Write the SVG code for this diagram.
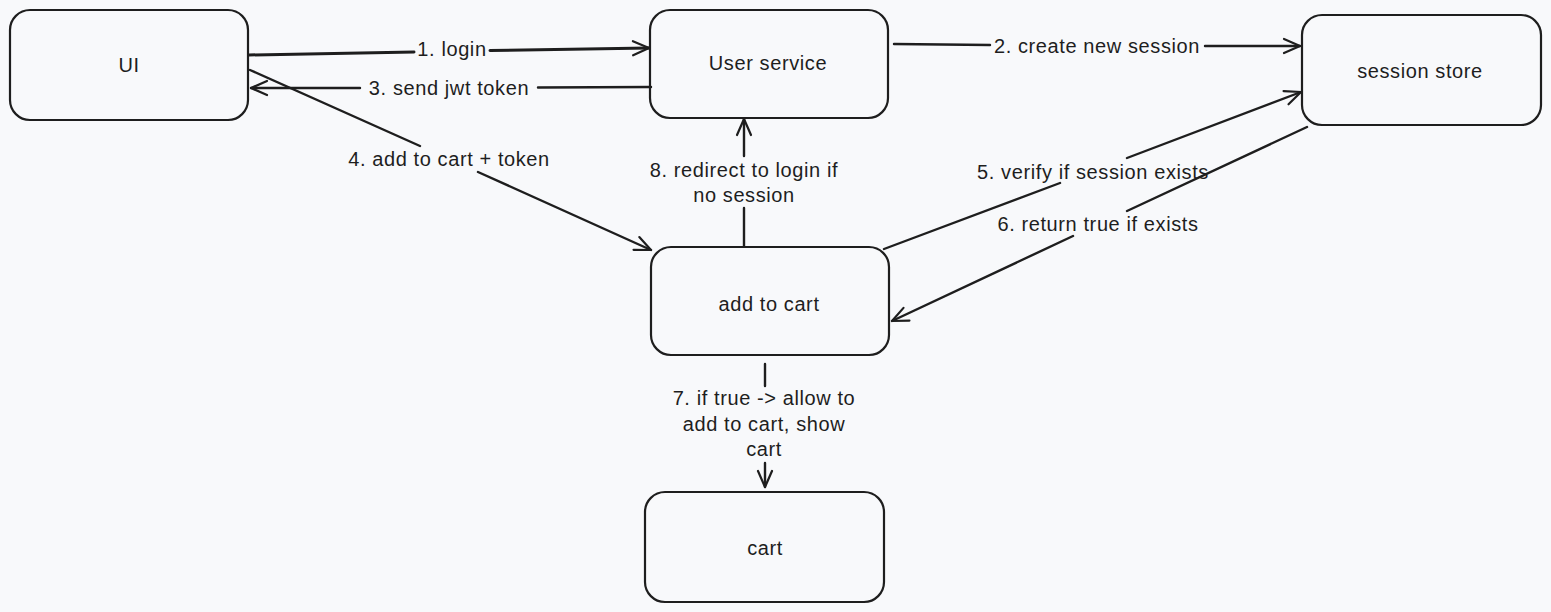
<svg xmlns="http://www.w3.org/2000/svg" width="1551" height="612" viewBox="0 0 1551 612">
<defs>
<style>
.bg{fill:#f8f9fb}
.node rect{fill:none;stroke:#1e1e1e;stroke-width:2.2}
.node text,.lbl{font-family:"Liberation Sans",Arial,sans-serif;font-size:20px;letter-spacing:0.6px;fill:#1e1e1e;text-anchor:middle;dominant-baseline:central}
.edge{fill:none;stroke:#1e1e1e;stroke-width:2.4;stroke-linecap:round;marker-end:url(#ah)}
</style>
<marker id="ah" viewBox="0 0 20 20" refX="18" refY="10" markerWidth="20" markerHeight="20" markerUnits="userSpaceOnUse" orient="auto">
<path d="M2,3 L18,10 L2,17" fill="none" stroke="#1e1e1e" stroke-width="2.2" stroke-linecap="round" stroke-linejoin="round"/>
</marker>
</defs>
<rect class="bg" x="0" y="0" width="1551" height="612"/>

<g id="connectors">
<path class="edge" style="stroke-width:3" d="M249,55 L414,52 M490,50.5 L649,48"/>
<text class="lbl" x="452" y="49">1. login</text>
<path class="edge" d="M894,44 L990,45 M1205,46 L1300,46"/>
<text class="lbl" x="1097" y="46">2. create new session</text>
<path class="edge" d="M651,87 L538,87.5 M360,88 L251,88"/>
<text class="lbl" x="449" y="88">3. send jwt token</text>
<path class="edge" d="M250,70 L420,146 M478,172 L651,250"/>
<text class="lbl" x="449" y="159">4. add to cart + token</text>
<path class="edge" d="M884,249 L1060,183 M1127,158 L1301,92"/>
<text class="lbl" x="1093" y="172">5. verify if session exists</text>
<path class="edge" d="M1307,127 L1127,211 M1073,236 L892,321"/>
<text class="lbl" x="1098" y="224">6. return true if exists</text>
<path class="edge" d="M765,364 L765,386 M765,463 L765,487"/>
<text class="lbl" x="764" y="398">7. if true -&gt; allow to</text>
<text class="lbl" x="764" y="424">add to cart, show</text>
<text class="lbl" x="764" y="449">cart</text>
<path class="edge" d="M744,246 L744,208 M744,156 L744,119"/>
<text class="lbl" x="744" y="170">8. redirect to login if</text>
<text class="lbl" x="744" y="195">no session</text>
</g>

<g id="ui" class="node"><rect x="10" y="10" width="238" height="110" rx="20"/><text x="129" y="65">UI</text></g>
<g id="user-service" class="node"><rect x="650" y="10" width="238" height="108" rx="20"/><text x="768" y="63">User service</text></g>
<g id="session-store" class="node"><rect x="1302" y="15" width="239" height="110" rx="20"/><text x="1420" y="71">session store</text></g>
<g id="add-to-cart" class="node"><rect x="651" y="247" width="238" height="108" rx="20"/><text x="769" y="304">add to cart</text></g>
<g id="cart" class="node"><rect x="645" y="492" width="239" height="110" rx="20"/><text x="765" y="548">cart</text></g>
</svg>
